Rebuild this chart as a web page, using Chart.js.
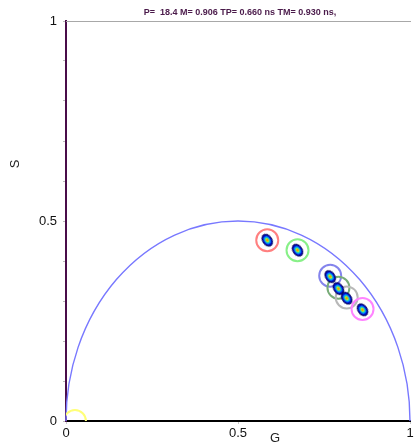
<!DOCTYPE html>
<html lang="en">
<head>
    <meta charset="UTF-8">
    <title>Phasor plot</title>
    <!-- Chart.js from CDN -->
    <script src="https://cdn.jsdelivr.net/npm/chart.js"></script>
    <style>
        body { margin: 0; background: #fff; }
    </style>
</head>
<body>
    <canvas id="phasorChart" width="417" height="443"></canvas>

    <script>
        // Header line above the plot
        const titleText = 'P=  18.4 M= 0.906 TP= 0.660 ns TM= 0.930 ns,';

        // Cluster centres (the coloured blobs)
        const blobG = [0.585, 0.673, 0.768, 0.792, 0.816, 0.862];
        const blobS = [0.452, 0.427, 0.361, 0.331, 0.307, 0.278];

        // Selection circles drawn round the clusters (last one sits at the origin)
        const circleG = [0.585, 0.673, 0.768, 0.792, 0.816, 0.862, 0.026];
        const circleS = [0.452, 0.427, 0.363, 0.333, 0.309, 0.280, 0.0];
        const circleColors = ['#ff8080', '#88f088', '#8484ec', '#78ac78', '#b8b8b8', '#ff84ff', '#ffff78'];

        // Tick labels that are shown
        const xTickLabels = ['0', '0.5', '1'];
        const yTickLabels = ['0', '0.5', '1'];

        // Small heat-map image used as point style for the blobs
        function makeBlob() {
            const c = document.createElement('canvas');
            c.width = 18; c.height = 18;
            const g = c.getContext('2d');
            const layers = [
                ['#000060', 5.0, 7.0],
                ['#0010d8', 4.0, 5.8],
                ['#0090ff', 3.0, 4.3],
                ['#30e0a0', 2.1, 3.0],
                ['#f0f000', 1.4, 2.0],
                ['#ff5000', 0.7, 1.0]
            ];
            layers.forEach(l => {
                g.fillStyle = l[0];
                g.beginPath();
                g.ellipse(9, 9, l[1], l[2], 0, 0, 2 * Math.PI);
                g.fill();
            });
            return c;
        }
        const blobImg = makeBlob();

        // Universal semicircle, title and axis names
        const extras = {
            id: 'extras',
            beforeDatasetsDraw(chart) {
                const ctx = chart.ctx;
                const x = chart.scales.x, y = chart.scales.y;
                const area = chart.chartArea;
                ctx.save();
                // top frame line
                ctx.strokeStyle = '#a8a8a8';
                ctx.lineWidth = 1;
                ctx.beginPath();
                ctx.moveTo(area.left, area.top + 0.5);
                ctx.lineTo(area.right + 1, area.top + 0.5);
                ctx.stroke();
                // semicircle
                const cx = x.getPixelForValue(0.5), cy = y.getPixelForValue(0);
                const rx = x.getPixelForValue(1) - cx, ry = cy - y.getPixelForValue(0.5);
                ctx.strokeStyle = '#7878ff';
                ctx.lineWidth = 1.4;
                ctx.beginPath();
                ctx.ellipse(cx, cy, rx, ry, 0, Math.PI, 2 * Math.PI);
                ctx.stroke();
                ctx.restore();
            },
            afterDraw(chart) {
                const ctx = chart.ctx;
                ctx.save();
                ctx.fillStyle = '#4a1a4a';
                ctx.font = 'bold 9px "Liberation Sans", Arial, sans-serif';
                ctx.textAlign = 'center';
                ctx.textBaseline = 'middle';
                ctx.fillText(titleText, 240, 13);

                ctx.fillStyle = '#222';
                ctx.font = '13px "Liberation Sans", Arial, sans-serif';
                ctx.fillText('G', 275, 438);
                ctx.translate(15, 164);
                ctx.rotate(-Math.PI / 2);
                ctx.fillText('S', 0, 0);
                ctx.restore();
            }
        };

        const ctx = document.getElementById('phasorChart').getContext('2d');
        new Chart(ctx, {
            type: 'scatter',
            data: {
                datasets: [
                    {
                        // heat-map blobs
                        data: blobG.map((g, i) => ({ x: g, y: blobS[i] })),
                        pointStyle: blobImg,
                        rotation: -35,
                        pointRadius: 9
                    },
                    {
                        // selection circles
                        data: circleG.map((g, i) => ({ x: g, y: circleS[i] })),
                        pointRadius: 11,
                        pointBorderWidth: 2,
                        pointBorderColor: circleColors,
                        pointBackgroundColor: 'rgba(0,0,0,0)',
                        clip: 0
                    }
                ]
            },
            options: {
                responsive: false,
                animation: false,
                events: [],
                // no extra room for point radii, the plot box is fixed
                layout: { autoPadding: false, padding: { top: 21, right: 7, left: 0, bottom: 0 } },
                plugins: {
                    legend: { display: false },
                    tooltip: { enabled: false }
                },
                scales: {
                    x: {
                        type: 'linear',
                        min: 0, max: 1,
                        afterFit(scale) {
                            scale.height = 22;
                            scale.paddingLeft = 0;
                            scale.paddingRight = 0;
                        },
                        border: { display: true, color: '#000', width: 2 },
                        grid: { display: true, drawOnChartArea: false, drawTicks: true, tickLength: 3, tickColor: '#c8c8c8' },
                        ticks: {
                            stepSize: 0.5,
                            padding: 2,
                            color: '#111',
                            font: { family: '"Liberation Sans", Arial, sans-serif', size: 13 },
                            maxRotation: 0,
                            callback: v => xTickLabels.includes(String(v)) ? String(v) : ''
                        }
                    },
                    y: {
                        type: 'linear',
                        min: 0, max: 1,
                        afterFit(scale) {
                            scale.width = 66;
                            scale.paddingTop = 0;
                            scale.paddingBottom = 0;
                        },
                        border: { display: true, color: '#4a0d4a', width: 2 },
                        grid: { display: true, drawOnChartArea: false, drawTicks: true, tickLength: 3, tickColor: '#bdbdbd' },
                        ticks: {
                            stepSize: 0.1,
                            padding: 6,
                            color: '#111',
                            font: { family: '"Liberation Sans", Arial, sans-serif', size: 13 },
                            callback: v => yTickLabels.includes(String(v)) ? String(v) : ''
                        }
                    }
                }
            },
            plugins: [extras]
        });
    </script>
</body>
</html>
